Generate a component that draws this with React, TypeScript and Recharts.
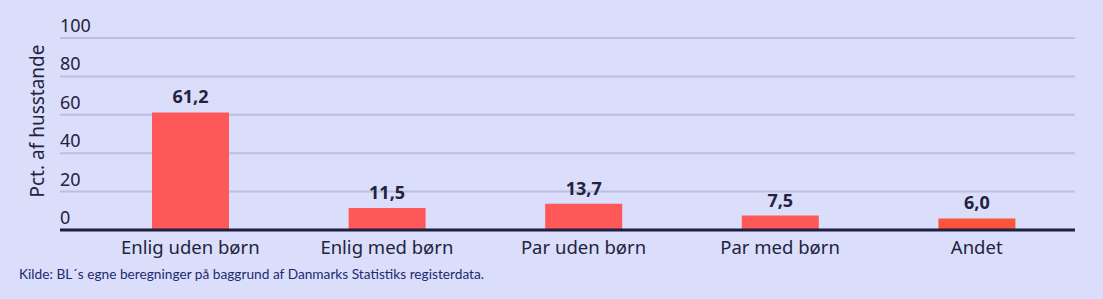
import React from "react";
import { BarChart, Bar, XAxis, YAxis, CartesianGrid, LabelList, Cell } from "recharts";

const categories = ["Enlig uden børn", "Enlig med børn", "Par uden børn", "Par med børn", "Andet"];
const values = [61.2, 11.5, 13.7, 7.5, 6.0];
const barColors = ["#ff5858", "#ff5858", "#ff5858", "#ff5858", "#fa553a"];
const yTicks = [0, 20, 40, 60, 80, 100];
const yLabel = "Pct. af husstande";
const source = "Kilde: BL´s egne beregninger på baggrund af Danmarks Statistiks registerdata.";

const data = categories.map((c, i) => ({ name: c, value: values[i] }));

const FONT = "'Noto Sans', sans-serif";
const TEXT = "#23233f";
const BG = "#dadefa";

const renderYTick = (props: any) => {
  const { x, y, payload } = props;
  return (
    <text x={x} y={y - 6} textAnchor="start" fill={TEXT} fontSize={18} fontFamily={FONT}>
      {payload.value}
    </text>
  );
};

export default function App() {
  return (
    <div style={{ position: "absolute", left: 0, top: 0, width: 1103, height: 299, background: BG, overflow: "hidden" }}>
      <BarChart
        width={1103}
        height={299}
        data={data}
        margin={{ top: 38, right: 28, left: 0, bottom: 40 }}
        barCategoryGap={0}
      >
        <CartesianGrid vertical={false} stroke="#bcc0dc" strokeWidth={2} />
        <YAxis
          width={60}
          domain={[0, 100]}
          ticks={yTicks}
          axisLine={false}
          tickLine={false}
          tickSize={0}
          tickMargin={0}
          tick={renderYTick}
        />
        <XAxis
          dataKey="name"
          padding={{ left: 32, right: 0 }}
          axisLine={{ stroke: "#1f1f40", strokeWidth: 3 }}
          tickLine={false}
          tickSize={0}
          tickMargin={11}
          height={29}
          tick={{ fill: TEXT, fontSize: 18.5, fontFamily: FONT }}
          interval={0}
        />
        <Bar dataKey="value" barSize={77} isAnimationActive={false}>
          {data.map((d, i) => (
            <Cell key={d.name} fill={barColors[i]} />
          ))}
          <LabelList
            dataKey="value"
            position="top"
            offset={9}
            formatter={(v: any) => Number(v).toFixed(1).replace(".", ",")}
            style={{ fill: TEXT, fontSize: 18, fontWeight: 700, fontFamily: FONT }}
          />
        </Bar>
      </BarChart>
      <div
        style={{
          position: "absolute",
          left: 37,
          top: 121,
          transform: "translate(-50%, -50%) rotate(-90deg)",
          whiteSpace: "nowrap",
          fontFamily: FONT,
          fontSize: 19,
          color: TEXT,
          lineHeight: 1,
        }}
      >
        {yLabel}
      </div>
      <div
        style={{
          position: "absolute",
          left: 19,
          top: 266,
          fontFamily: "Lato, sans-serif",
          fontSize: 13.7,
          color: "#1e2a70",
          whiteSpace: "nowrap",
          lineHeight: 1.2,
        }}
      >
        {source}
      </div>
    </div>
  );
}
